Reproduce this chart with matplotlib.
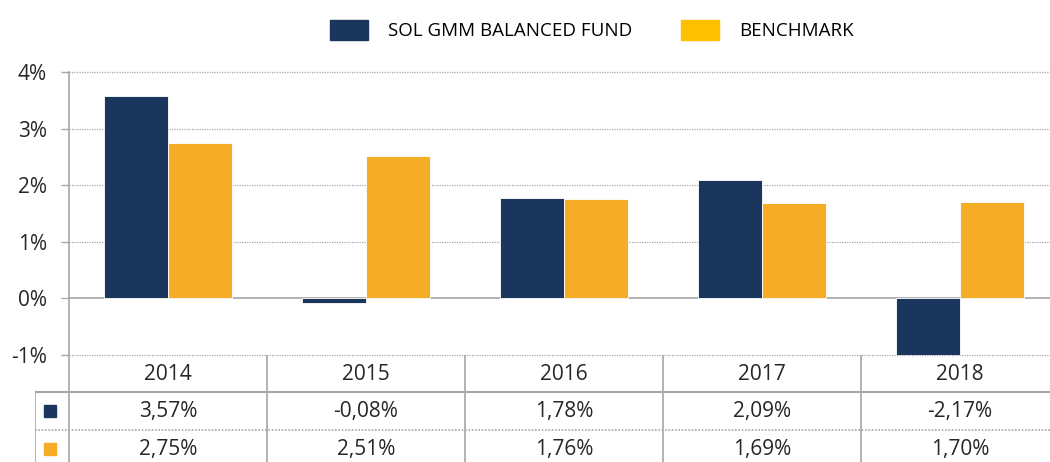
import numpy as np
import matplotlib.pyplot as plt
from matplotlib.patches import Patch
from matplotlib.lines import Line2D

plt.rcParams['font.family'] = ['Open Sans', 'DejaVu Sans']

# data
years = ['2014', '2015', '2016', '2017', '2018']
fund = [3.57, -0.08, 1.78, 2.09, -2.17]
bench = [2.75, 2.51, 1.76, 1.69, 1.70]
fund_name = 'SOL GMM BALANCED FUND'
bench_name = 'BENCHMARK'

navy = '#1b365d'
gold = '#f5ad25'
legend_gold = '#ffc000'
grid_c = '#a6a6a6'
txt_c = '#262626'

W, H = 1050, 462
fig = plt.figure(figsize=(W / 100, H / 100), dpi=100)

# main plot area (pixel layout converted to figure fractions)
left_px, right_px, top_px, bot_px = 69, 1059, 72, 355
ax = fig.add_axes([left_px / W, 1 - bot_px / H, (right_px - left_px) / W, (bot_px - top_px) / H])

x = np.arange(len(years))
bw = 0.325
ax.bar(x - bw / 2, fund, bw, color=navy, edgecolor='white', linewidth=0.6, zorder=3)
ax.bar(x + bw / 2, bench, bw, color=gold, edgecolor='white', linewidth=0.6, zorder=3)

ax.set_xlim(-0.5, len(years) - 0.5)
ax.set_ylim(-1, 4)
ax.set_yticks(range(-1, 5))
ax.set_yticklabels([f'{v}%' for v in range(-1, 5)], fontsize=15, color=txt_c)
ax.set_xticks([])
ax.tick_params(axis='y', length=6, width=1, color=grid_c, pad=10)
for v in range(-1, 5):
    if v == 0:
        ax.axhline(v, color=grid_c, lw=1.2, zorder=2)
    else:
        ax.axhline(v, color=grid_c, lw=0.9, ls=(0, (1, 1)), zorder=1, clip_on=False)
for s in ['top', 'right', 'bottom']:
    ax.spines[s].set_visible(False)
ax.spines['left'].set_color(grid_c)
ax.spines['left'].set_linewidth(1.2)

# data table below the axes
tleft_px = 35
tax = fig.add_axes([tleft_px / W, 0, (right_px - tleft_px) / W, 1 - bot_px / H])
tax.set_xlim(-0.5 - (left_px - tleft_px) / 198, len(years) - 0.5)
tax.set_ylim(H, bot_px)
tax.axis('off')
row_label_x = -0.5 - (left_px - tleft_px) / 198 / 2

# column separators
for b in np.arange(len(years) + 1) - 0.5:
    tax.add_line(Line2D([b, b], [bot_px, H], color=grid_c, lw=1.2))
tax.add_line(Line2D([tax.get_xlim()[0]] * 2, [392, H], color=grid_c, lw=1.2))
tax.add_line(Line2D(tax.get_xlim(), [392, 392], color=grid_c, lw=1.5))
tax.add_line(Line2D(tax.get_xlim(), [430, 430], color=grid_c, lw=1.2, ls=(0, (1, 1))))

for i, yr in enumerate(years):
    tax.text(i, 374, yr, ha='center', va='center', fontsize=15, color=txt_c)
    tax.text(i, 411, f'{fund[i]:.2f}%'.replace('.', ','), ha='center', va='center', fontsize=15, color=txt_c)
    tax.text(i, 449, f'{bench[i]:.2f}%'.replace('.', ','), ha='center', va='center', fontsize=15, color=txt_c)
tax.plot(row_label_x - 0.008, 411, marker='s', ms=8.5, color=navy, ls='none')
tax.plot(row_label_x - 0.008, 449, marker='s', ms=8.5, color=gold, ls='none')

# legend
handles = [Patch(color=navy, label=fund_name), Patch(color=legend_gold, label=bench_name)]
fig.legend(handles=handles, loc='center', bbox_to_anchor=(592 / W, 1 - 30 / H), ncol=2,
           frameon=False, fontsize=13.5, handlelength=2.0, handleheight=1.3,
           handletextpad=1.1, columnspacing=2.6, labelcolor='black')

fig.savefig('out.png', dpi=100)
